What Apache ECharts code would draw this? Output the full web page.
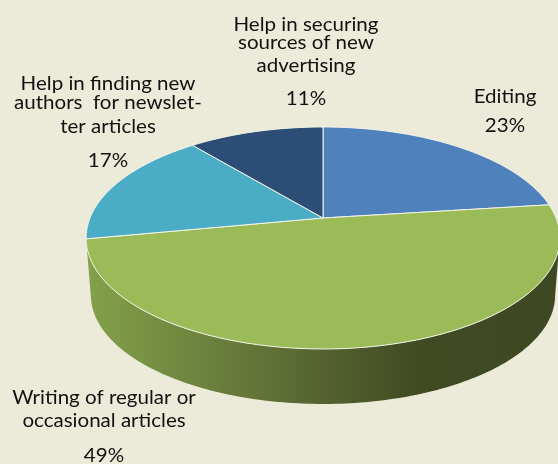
<!DOCTYPE html>
<html>
<head>
<meta charset="utf-8">
<style>html,body{margin:0;padding:0;background:#ecebda}#chart{width:558px;height:464px}</style>
<script src="https://cdn.jsdelivr.net/npm/echarts@6/dist/echarts.min.js"></script>
</head>
<body>
<div id="chart"></div>
<script>
// Survey shares, clockwise from twelve o'clock
const categories = [
  'Editing',
  'Writing of regular or occasional articles',
  'Help in finding new authors for newsletter articles',
  'Help in securing sources of new advertising'
];
const values = [23, 49, 17, 11];
const labelLines = [
  ['Editing'],
  ['Writing of regular or', 'occasional articles'],
  ['Help in finding new', 'authors  for newslet-', 'ter articles'],
  ['Help in securing', 'sources of new', 'advertising']
];
const sliceColors = ['#4f81bd', '#9bbb59', '#4bacc6', '#2c4d75'];

// Where each label's lines sit: centre x, then one y per line plus one for the percentage
const labelPlacement = [
  { x: 505, ys: [97, 126] },
  { x: 104, ys: [398, 421, 456] },
  { x: 108, ys: [84, 103, 127, 161] },
  { x: 306, ys: [25, 43, 66, 99] }
];

// Tilted disc: a perspective projection of a unit circle
const pivot = { x: 323, y: 218 };
const persp = 0.18;
const scaleX = 233;
const scaleY = 107.4;
const depth = 57.6;
const floorScale = 0.98;

function project(theta, lower) {
  const u = Math.sin(theta), v = -Math.cos(theta);
  const w = 1 - persp * v;
  const s = lower ? floorScale : 1;
  return [
    pivot.x + s * scaleX * u / w,
    pivot.y + (lower ? depth : 0) + s * scaleY * v / w
  ];
}

// The rim is visible only between the two silhouette angles of the projected disc
const rimFrom = Math.PI - Math.acos(persp);
const rimTo = Math.PI + Math.acos(persp);
const total = values.reduce((a, b) => a + b, 0);
const STEP = Math.PI / 180;

function arc(a0, a1, lower) {
  const n = Math.max(2, Math.ceil(Math.abs(a1 - a0) / STEP));
  const pts = [];
  for (let i = 0; i <= n; i++) pts.push(project(a0 + (a1 - a0) * i / n, lower));
  return pts;
}

function renderSlice(params, api) {
  const i = params.dataIndex;
  let before = 0;
  for (let k = 0; k < i; k++) before += values[k];
  const a0 = before / total * 2 * Math.PI;
  const a1 = (before + api.value(0)) / total * 2 * Math.PI;
  const children = [];

  const r0 = Math.max(a0, rimFrom), r1 = Math.min(a1, rimTo);
  if (r1 > r0) {
    children.push({
      type: 'polygon',
      shape: { points: arc(r0, r1, false).concat(arc(r1, r0, true)) },
      style: {
        fill: {
          type: 'linear', x: 0, y: 0, x2: 1, y2: 0,
          colorStops: [
            { offset: 0, color: '#84a14b' },
            { offset: 0.4, color: '#5f6f35' },
            { offset: 0.7, color: '#404a23' },
            { offset: 1, color: '#3e4923' }
          ]
        }
      }
    });
  }
  children.push({
    type: 'polygon',
    shape: { points: [[pivot.x, pivot.y]].concat(arc(a0, a1, false)) },
    style: { fill: sliceColors[i], stroke: '#f4f4ea', lineWidth: 1, lineJoin: 'round' }
  });

  const place = labelPlacement[i];
  labelLines[i].concat([api.value(0) + '%']).forEach((line, j) => {
    children.push({
      type: 'text',
      z2: 10,
      x: place.x,
      y: place.ys[j],
      scaleX: 1.11,
      style: {
        x: 0, y: 0, text: line,
        fill: '#111', font: '18.5px Lato, sans-serif',
        align: 'center', verticalAlign: 'middle'
      }
    });
  });
  return { type: 'group', children };
}

const chart = echarts.init(document.getElementById('chart'), null, { renderer: 'canvas' });
chart.setOption({
  animation: false,
  backgroundColor: '#ecebda',
  series: [{
    type: 'custom',
    coordinateSystem: 'none',
    renderItem: renderSlice,
    data: values.map((v, i) => ({ name: categories[i], value: [v] }))
  }]
});
</script>
</body>
</html>
